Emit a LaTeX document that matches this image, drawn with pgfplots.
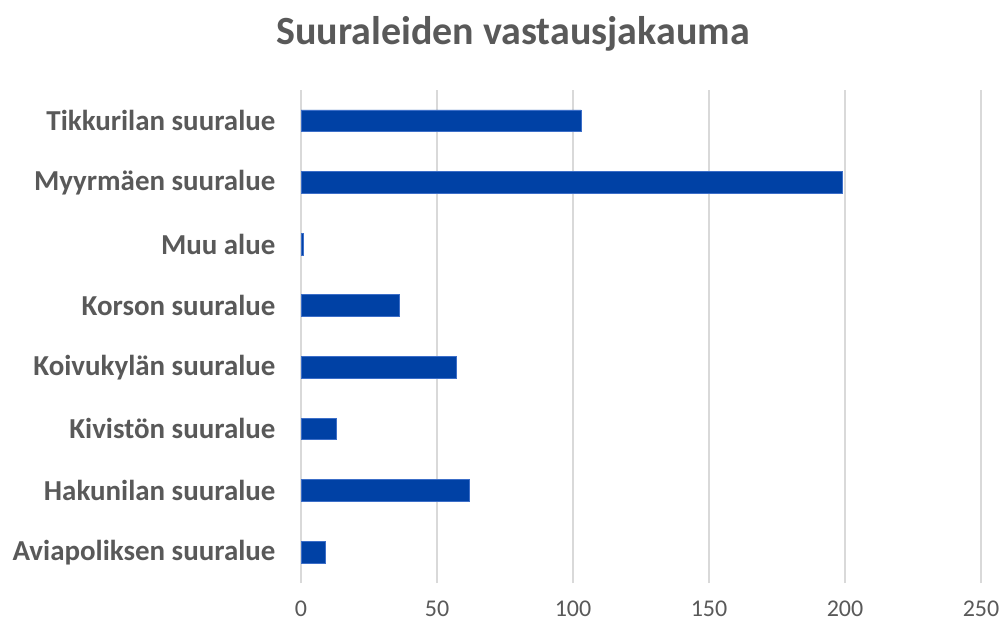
\documentclass[border=0pt]{standalone}
\usepackage{fontspec}
\setmainfont{Carlito}
\usepackage{pgfplots}
\pgfplotsset{compat=1.18}
\definecolor{barblue}{RGB}{0,65,165}
\definecolor{baredge}{RGB}{60,110,200}
\definecolor{txtgrey}{RGB}{89,89,89}
\definecolor{gridgrey}{RGB}{217,217,217}
\begin{document}
\begin{tikzpicture}[x=0.75pt,y=0.75pt]
\path (0,0) rectangle (1005,625);
\node[font=\fontsize{30}{36}\selectfont\bfseries, text=txtgrey, anchor=center] at (513,591) {Suuraleiden vastausjakauma};
\begin{axis}[
  at={(301*0.75pt,42*0.75pt)}, anchor=south west,
  scale only axis,
  width=510pt, height=369.75pt,
  xbar, bar width=16.3pt,
  xmin=0, xmax=250, ymin=-0.5, ymax=7.5,
  xtick={0,50,100,150,200,250},
  ytick={0,1,2,3,4,5,6,7},
  yticklabels={Aviapoliksen suuralue,Hakunilan suuralue,Kivistön suuralue,Koivukylän suuralue,Korson suuralue,Muu alue,Myyrmäen suuralue,Tikkurilan suuralue},
  xmajorgrids, ymajorgrids=false,
  major grid style={draw=gridgrey, line width=1.5pt},
  axis line style={draw=none},
  major tick length=0pt,
  /pgf/number format/assume math mode=true,
  xticklabel style={font=\fontsize{18}{22}\selectfont, text=txtgrey, inner sep=0pt, anchor=north, yshift=-13pt},
  yticklabel style={font=\fontsize{21.7}{26}\selectfont\bfseries, text=txtgrey, inner sep=0pt, anchor=east, xshift=-19pt},
  clip=false,
]
\addplot[fill=barblue, draw=baredge, line width=0.6pt] coordinates {
  (9,0) (62,1) (13,2) (57,3) (36,4) (1,5) (199,6) (103,7)
};
\end{axis}
\end{tikzpicture}
\end{document}
